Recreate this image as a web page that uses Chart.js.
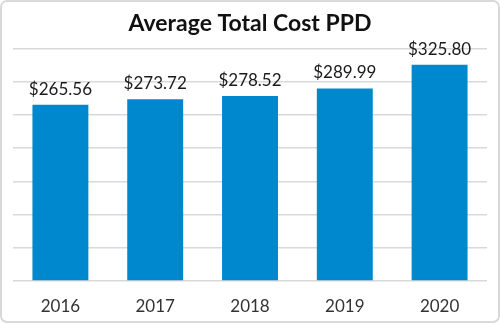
<!DOCTYPE html>
<html>
<head>
<meta charset="utf-8">
<script src="https://cdn.jsdelivr.net/npm/chart.js@4/dist/chart.umd.min.js"></script>
<style>
  html, body { margin: 0; padding: 0; background: #fff; }
  #wrap { width: 500px; height: 323px; }
</style>
</head>
<body>
<div id="wrap"><canvas id="myChart" width="500" height="323"></canvas></div>
<script>
const years = ['2016', '2017', '2018', '2019', '2020'];
const avgCost = [265.56, 273.72, 278.52, 289.99, 325.80];
const yTicks = [0, 50, 100, 150, 200, 250, 300, 350];

const barBlue = 'rgb(0, 136, 206)';

// etiquetas de valor acima das barras
const valueLabels = {
  id: 'valueLabels',
  afterDatasetsDraw(chart) {
    const ctx = chart.ctx;
    const meta = chart.getDatasetMeta(0);
    ctx.save();
    ctx.font = '17px Lato';
    ctx.fillStyle = '#1a1a1a';
    ctx.textAlign = 'center';
    ctx.textBaseline = 'bottom';
    meta.data.forEach((bar, i) => {
      ctx.fillText('$' + avgCost[i].toFixed(2), bar.x, bar.y - 7);
    });
    ctx.restore();
  }
};

// moldura arredondada
const frame = {
  id: 'frame',
  afterDraw(chart) {
    const ctx = chart.ctx;
    ctx.save();
    ctx.strokeStyle = '#d9d9d9';
    ctx.lineWidth = 2;
    ctx.beginPath();
    ctx.roundRect(1, 1, chart.width - 2, chart.height - 2, 6);
    ctx.stroke();
    ctx.restore();
  }
};

const ctx = document.getElementById('myChart').getContext('2d');

new Chart(ctx, {
  type: 'bar',
  data: {
    labels: years,
    datasets: [{
      label: 'Average Total Cost PPD',
      data: avgCost,
      backgroundColor: barBlue,
      barPercentage: 0.59,
      categoryPercentage: 1
    }]
  },
  options: {
    responsive: false,
    animation: false,
    layout: { padding: { left: 13, right: 13, top: 0, bottom: 0 } },
    plugins: {
      legend: { display: false },
      tooltip: { enabled: false },
      title: {
        display: true,
        text: 'Average Total Cost PPD',
        color: '#111',
        font: { family: 'Lato', size: 23, weight: 'bold' },
        padding: { top: 10, bottom: 11 }
      }
    },
    scales: {
      x: {
        afterFit: (axis) => { axis.height = 42; },
        grid: { display: false, drawTicks: false },
        border: { display: false },
        ticks: {
          color: '#333',
          font: { family: 'Lato', size: 17 },
          padding: 15
        }
      },
      y: {
        min: yTicks[0],
        max: yTicks[yTicks.length - 1],
        afterBuildTicks: (axis) => { axis.ticks = yTicks.map(v => ({ value: v })); },
        grid: { color: '#d9d9d9', lineWidth: 1.5, drawTicks: false },
        border: { display: false },
        ticks: { display: false }
      }
    }
  },
  plugins: [valueLabels, frame]
});
</script>
</body>
</html>
